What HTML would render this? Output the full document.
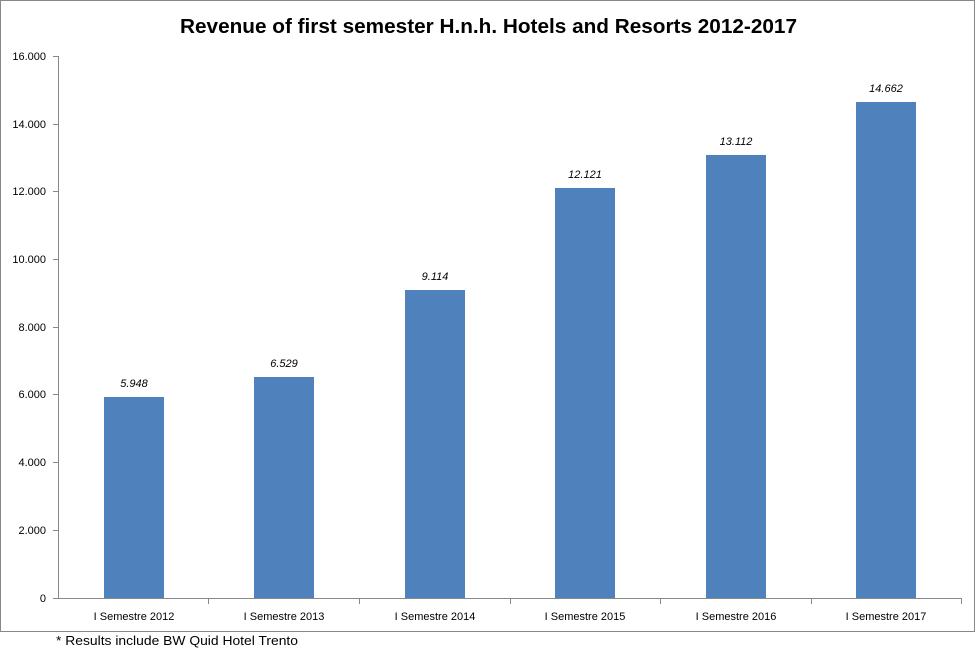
<!DOCTYPE html>
<html><head><style>body{margin:0;background:#fff}svg{display:block}</style></head><body>
<svg width="976" height="657" xmlns="http://www.w3.org/2000/svg" font-family="Liberation Sans, DejaVu Sans, sans-serif">
<rect x="0.5" y="0.5" width="974" height="631" fill="#fff" stroke="#888" stroke-width="1"/>
<text x="180" y="33" font-size="20" font-weight="bold" fill="#000" textLength="617" lengthAdjust="spacingAndGlyphs">Revenue of first semester H.n.h. Hotels and Resorts 2012-2017</text>
<g stroke="#888" stroke-width="1">
<line x1="58.5" y1="56" x2="58.5" y2="598"/>
<line x1="53" y1="598.5" x2="962" y2="598.5"/>
<line x1="53" y1="56.5" x2="58" y2="56.5"/><line x1="53" y1="124.5" x2="58" y2="124.5"/>
<line x1="53" y1="191.5" x2="58" y2="191.5"/><line x1="53" y1="259.5" x2="58" y2="259.5"/>
<line x1="53" y1="327.5" x2="58" y2="327.5"/><line x1="53" y1="394.5" x2="58" y2="394.5"/>
<line x1="53" y1="462.5" x2="58" y2="462.5"/><line x1="53" y1="530.5" x2="58" y2="530.5"/>
<line x1="208.5" y1="598" x2="208.5" y2="604"/><line x1="359.5" y1="598" x2="359.5" y2="604"/>
<line x1="510.5" y1="598" x2="510.5" y2="604"/><line x1="660.5" y1="598" x2="660.5" y2="604"/>
<line x1="811.5" y1="598" x2="811.5" y2="604"/><line x1="961.5" y1="598" x2="961.5" y2="604"/>
</g>
<g font-size="11" text-anchor="end" fill="#000">
<text x="46" y="60">16.000</text><text x="46" y="128">14.000</text><text x="46" y="195">12.000</text>
<text x="46" y="263">10.000</text><text x="46" y="331">8.000</text><text x="46" y="398">6.000</text>
<text x="46" y="466">4.000</text><text x="46" y="534">2.000</text><text x="46" y="602">0</text>
</g>
<g fill="#4f81bd">
<rect x="104" y="397" width="60" height="201"/>
<rect x="254" y="377" width="60" height="221"/>
<rect x="405" y="290" width="60" height="308"/>
<rect x="555" y="188" width="60" height="410"/>
<rect x="706" y="155" width="60" height="443"/>
<rect x="856" y="102" width="60" height="496"/>
</g>
<g font-size="11" font-style="italic" text-anchor="middle" fill="#000">
<text x="134" y="387">5.948</text><text x="284" y="367">6.529</text><text x="435" y="280">9.114</text>
<text x="585" y="178">12.121</text><text x="736" y="145">13.112</text><text x="886" y="92">14.662</text>
</g>
<g font-size="11" text-anchor="middle" fill="#000">
<text x="134" y="620">I Semestre 2012</text><text x="284" y="620">I Semestre 2013</text>
<text x="435" y="620">I Semestre 2014</text><text x="585" y="620">I Semestre 2015</text>
<text x="736" y="620">I Semestre 2016</text><text x="886" y="620">I Semestre 2017</text>
</g>
<text x="56" y="645" font-size="13" fill="#000" textLength="242" lengthAdjust="spacingAndGlyphs">* Results include BW Quid Hotel Trento</text>
</svg>
</body></html>
